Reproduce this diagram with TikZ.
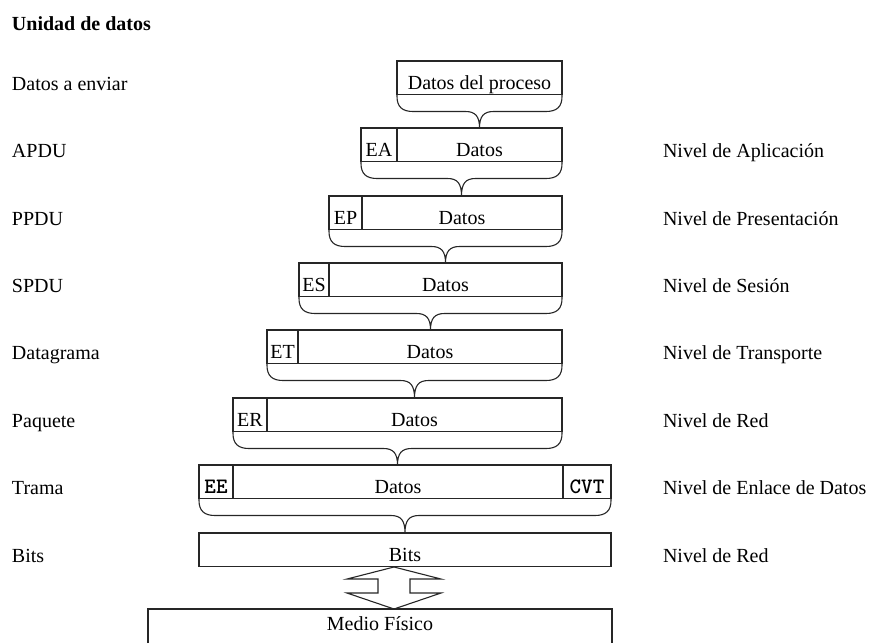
\documentclass[tikz,border=0pt]{standalone}
\usepackage{fontspec}
\setmainfont{Liberation Serif}
\usetikzlibrary{calc}
\tikzset{
  ln/.style={line width=1.1pt, draw=black!85},
  cell/.style={ln, rectangle, minimum height=33.5pt, inner sep=0pt, outer sep=0pt,
               text height=24pt, text depth=0pt, anchor=north west},
  brcline/.style={ln, line join=round},
  lbl/.style={anchor=base west, inner sep=0pt, outer sep=0pt},
  mono/.style={font=\fontsize{22}{24}\selectfont\ttfamily\bfseries},
}
\newcommand\mybrc[3]{%
  \draw[brcline] let \p1=(#1.south west), \p2=(#2.south east), \p3=(#3.north),
        \n1={(\x1+\x2)/2}, \n2={\y1-17pt} in
    (\x1,\y1) -- (\x1,\y1-2pt)
    .. controls (\x1,\n2+5pt) and (\x1+5pt,\n2) .. (\x1+16pt,\n2)
    -- (\n1-14pt,\n2)
    .. controls (\n1-4pt,\n2) and (\n1,\n2-5pt) .. (\n1,\y3)
    .. controls (\n1,\n2-5pt) and (\n1+4pt,\n2) .. (\n1+14pt,\n2)
    -- (\x2-16pt,\n2)
    .. controls (\x2-5pt,\n2) and (\x2,\n2+5pt) .. (\x2,\y1-2pt)
    -- (\x2,\y1);}
\begin{document}
\begin{tikzpicture}[x=1pt,y=-1pt,font=\fontsize{20}{24}\selectfont]
\useasboundingbox (0,0) rectangle (874,643);

% left labels
\node[lbl] (tit) at (12,30) {\bfseries Unidad de datos};
\node[lbl] (l0) at (12,90) {Datos a enviar};
\node[lbl] (l1) at (12,157) {APDU};
\node[lbl] (l2) at (12,225) {PPDU};
\node[lbl] (l3) at (12,292) {SPDU};
\node[lbl] (l4) at (12,359) {Datagrama};
\node[lbl] (l5) at (12,427) {Paquete};
\node[lbl] (l6) at (12,494) {Trama};
\node[lbl] (l7) at (12,562) {Bits};

% right labels
\node[lbl] (r1) at (663,157) {Nivel de Aplicación};
\node[lbl] (r2) at (663,225) {Nivel de Presentación};
\node[lbl] (r3) at (663,292) {Nivel de Sesión};
\node[lbl] (r4) at (663,359) {Nivel de Transporte};
\node[lbl] (r5) at (663,427) {Nivel de Red};
\node[lbl] (r6) at (663,494) {Nivel de Enlace de Datos};
\node[lbl] (r7) at (663,562) {Nivel de Red};

% boxes
\node[cell, draw, minimum width=165pt] (d0) at (397,61) {Datos del proceso};

\node[cell, draw, minimum width=36pt] (h1) at (361,128) {EA};
\node[cell, draw, minimum width=165pt] (d1) at (h1.north east) {Datos};

\node[cell, draw, minimum width=33pt] (h2) at (329,196) {EP};
\node[cell, draw, minimum width=200pt] (d2) at (h2.north east) {Datos};

\node[cell, draw, minimum width=30pt] (h3) at (299,263) {ES};
\node[cell, draw, minimum width=233pt] (d3) at (h3.north east) {Datos};

\node[cell, draw, minimum width=31pt] (h4) at (267,330) {ET};
\node[cell, draw, minimum width=264pt] (d4) at (h4.north east) {Datos};

\node[cell, draw, minimum width=34pt] (h5) at (233,398) {ER};
\node[cell, draw, minimum width=295pt] (d5) at (h5.north east) {Datos};

\node[cell, draw, minimum width=34pt, mono] (h6) at (199,465) {EE};
\node[cell, draw, minimum width=330pt] (d6) at (h6.north east) {Datos};
\node[cell, draw, minimum width=48pt, mono] (c6) at (d6.north east) {CVT};

\node[cell, draw, minimum width=412pt] (b7) at (199,533) {Bits};

% braces
\mybrc{d0}{d0}{d1}
\mybrc{h1}{d1}{d2}
\mybrc{h2}{d2}{d3}
\mybrc{h3}{d3}{d4}
\mybrc{h4}{d4}{d5}
\mybrc{h5}{d5}{d6}
\mybrc{h6}{c6}{b7}

% physical medium
\coordinate (m1) at (148,643);
\coordinate (m2) at (148,609);
\coordinate (m3) at (612,609);
\coordinate (m4) at (612,643);
\draw[ln] (m1) -- (m2) -- (m3) -- (m4);
\node[anchor=base, inner sep=0pt] (medio) at (380,630) {Medio Físico};

% double arrow
\draw[ln, line join=miter] (394,567) -- (441,579) -- (410,579) -- (410,593) -- (441,593)
  -- (394,609) -- (347,593) -- (378,593) -- (378,579) -- (347,579) -- cycle;
\end{tikzpicture}
\end{document}
